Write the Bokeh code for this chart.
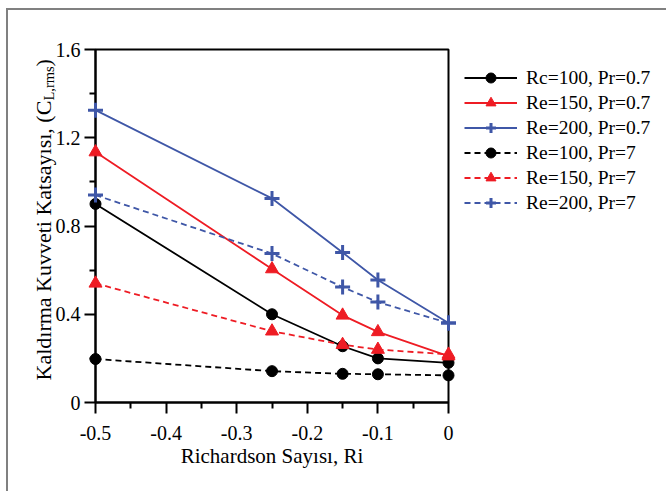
import math
from bokeh.plotting import figure
from bokeh.models import (Range1d, FixedTicker, Legend, LegendItem, ColumnDataSource)
from bokeh.core.properties import value
from bokeh.embed import file_html
from bokeh.resources import INLINE

# ---------------- data ----------------
ri = [-0.5, -0.25, -0.15, -0.1, 0.0]
re100_pr07 = [0.90, 0.40, 0.255, 0.20, 0.18]
re150_pr07 = [1.135, 0.605, 0.395, 0.32, 0.21]
re200_pr07 = [1.325, 0.925, 0.68, 0.555, 0.36]
re100_pr7 = [0.197, 0.142, 0.130, 0.128, 0.123]
re150_pr7 = [0.54, 0.323, 0.262, 0.24, 0.218]
re200_pr7 = [0.94, 0.675, 0.523, 0.455, 0.36]
series_labels = ["Rc=100, Pr=0.7", "Re=150, Pr=0.7", "Re=200, Pr=0.7",
                 "Re=100, Pr=7", "Re=150, Pr=7", "Re=200, Pr=7"]
x_tick_values = [-0.5, -0.4, -0.3, -0.2, -0.1, 0.0]
x_tick_labels = ["-0.5", "-0.4", "-0.3", "-0.2", "-0.1", "0"]
x_minor_values = [-0.45, -0.35, -0.25, -0.15, -0.05]
y_tick_values = [0.0, 0.4, 0.8, 1.2, 1.6]
y_tick_labels = ["0", "0.4", "0.8", "1.2", "1.6"]
y_minor_values = [0.2, 0.6, 1.0, 1.4]
x_title = "Richardson Sayısı, Ri"
y_title_main = "Kaldırma Kuvveti Katsayısı, (C"
y_title_sub = "L,rms"
y_title_end = ")"

FONT = "Liberation Serif"
BLACK = "#000000"
RED = "#ee1c24"
BLUE = "#3f57a7"

X0, X1 = -0.5, 0.0
Y0, Y1 = 0.0, 1.6
BOX = 353

p = figure(frame_width=BOX, frame_height=BOX,
           min_border_left=87, min_border_right=218, min_border_top=39, min_border_bottom=89,
           x_range=Range1d(X0, X1), y_range=Range1d(Y0, Y1),
           output_backend="svg", toolbar_location=None)
p.outline_line_color = "black"
p.outline_line_width = 2
p.background_fill_color = "white"
p.border_fill_color = "white"
p.grid.visible = False
p.styles = {"margin-left": "6px", "margin-top": "8px",
            "border-left": "2px solid #808080", "border-top": "2px solid #808080"}

for ax in (p.xaxis[0], p.yaxis[0]):
    ax.axis_line_width = 2
    ax.axis_line_color = "black"
    ax.major_tick_line_width = 2
    ax.minor_tick_line_width = 2
    ax.major_tick_line_color = "black"
    ax.minor_tick_line_color = "black"
    ax.major_tick_in = 0
    ax.major_tick_out = 11
    ax.minor_tick_in = 0
    ax.minor_tick_out = 6
    ax.major_label_text_font = FONT
    ax.major_label_text_font_size = "20px"
    ax.major_label_text_color = "black"

xaxis = p.xaxis[0]
xaxis.ticker = FixedTicker(ticks=x_tick_values, minor_ticks=x_minor_values)
xaxis.major_label_overrides = {v: s for v, s in zip(x_tick_values, x_tick_labels)}
xaxis.major_label_standoff = 12
xaxis.axis_label = x_title
xaxis.axis_label_text_font = FONT
xaxis.axis_label_text_font_size = "21px"
xaxis.axis_label_text_font_style = "normal"
xaxis.axis_label_text_color = "black"
xaxis.axis_label_standoff = 1

yaxis = p.yaxis[0]
yaxis.ticker = FixedTicker(ticks=y_tick_values, minor_ticks=y_minor_values)
yaxis.major_label_overrides = {v: s for v, s in zip(y_tick_values, y_tick_labels)}
yaxis.major_label_standoff = 4

series = [
    (re100_pr07, BLACK, "solid", "circle"),
    (re150_pr07, RED, "solid", "triangle"),
    (re200_pr07, BLUE, "solid", "cross"),
    (re100_pr7, BLACK, "6 4", "circle"),
    (re150_pr7, RED, "6 4", "triangle"),
    (re200_pr7, BLUE, "6 4", "cross"),
]

items = []
for (vals, color, dash, marker), lab in zip(series, series_labels):
    src = ColumnDataSource(dict(x=ri, y=vals))
    lr = p.line("x", "y", source=src, line_color=color, line_width=1.8, line_dash=dash)
    if marker == "cross":
        sr = p.scatter("x", "y", source=src, marker="cross", size=15,
                       line_color=color, line_width=3, level="overlay")
    elif marker == "triangle":
        sr = p.scatter("x", "y", source=src, marker="triangle", size=13,
                       fill_color=color, line_color=color, level="overlay")
    else:
        sr = p.scatter("x", "y", source=src, marker="circle", size=11,
                       fill_color=color, line_color=color, level="overlay")
    items.append(LegendItem(label=lab, renderers=[lr, sr]))

legend = Legend(items=items, location="top_left")
legend.border_line_color = None
legend.background_fill_alpha = 0
legend.padding = 0
legend.margin = 16
legend.spacing = 0
legend.glyph_width = 53
legend.glyph_height = 25
legend.label_height = 24
legend.label_standoff = 9
legend.label_text_font = FONT
legend.label_text_font_size = "19.5px"
legend.label_text_color = "black"
p.add_layout(legend, "right")


# y-axis title built from pieces (main text, subscript, closing parenthesis);
# drawn as overlay-level text so it is not clipped to the frame
def dx(px):
    return X0 + (px - 95) * (X1 - X0) / BOX


def dy(py):
    return Y0 + (402 - py) * (Y1 - Y0) / BOX


for txt, px, py, size in [(y_title_main, 43, 380, "22px"),
                          (y_title_sub, 48, 100, "14.5px"),
                          (y_title_end, 43, 66, "22px")]:
    p.text(x=[dx(px)], y=[dy(py)], text=[txt], angle=math.pi / 2,
           text_align="left", text_baseline="alphabetic",
           text_font=value(FONT), text_font_size=value(size), text_color="black",
           level="overlay")

open("out.html", "w").write(file_html(p, INLINE))
